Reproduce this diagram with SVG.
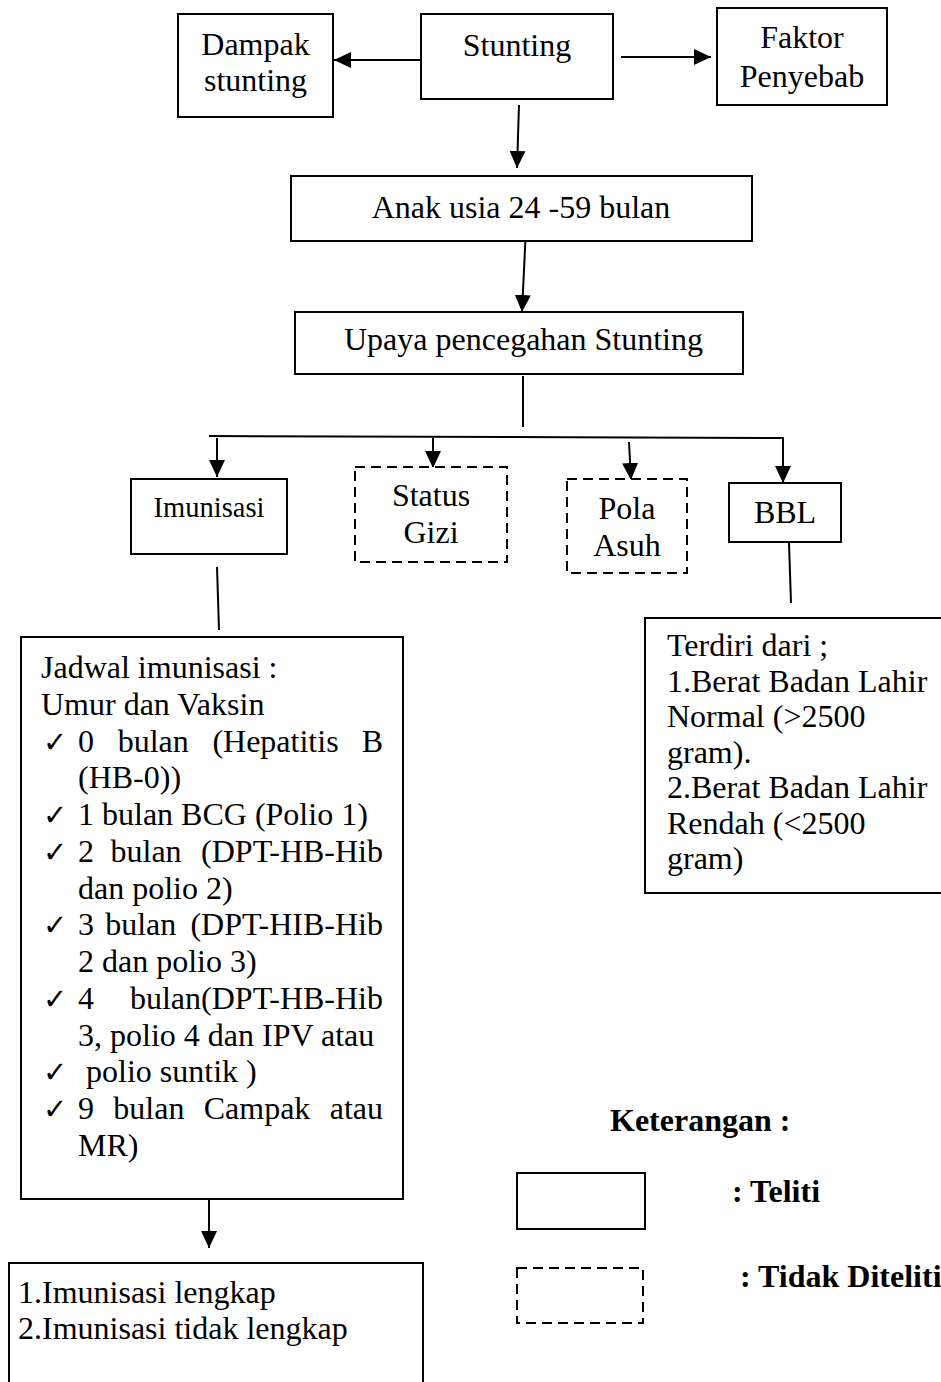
<svg xmlns="http://www.w3.org/2000/svg" width="941" height="1382" viewBox="0 0 941 1382">
<style>
.box{fill:#fff;stroke:#000;stroke-width:2}
.dash{fill:#fff;stroke:#000;stroke-width:2;stroke-dasharray:10 6}
.open{fill:none;stroke:#000;stroke-width:2}
.t{font-family:"Liberation Serif","Times New Roman",serif;font-size:32px;fill:#000}
.c{text-anchor:middle}
.e{text-anchor:end}
.b{font-weight:bold}
.ck{font-family:"DejaVu Sans",sans-serif;font-size:29px;fill:#000}
.ln{stroke:#000;stroke-width:2;fill:none}
</style>
<defs>
<marker id="ah" markerUnits="userSpaceOnUse" markerWidth="17" markerHeight="16" refX="17" refY="8" orient="auto">
<path d="M0,0 L17,8 L0,16 z" fill="#000"/>
</marker>
</defs>

<g id="connectors">
<line class="ln" x1="421" y1="60" x2="334" y2="60" marker-end="url(#ah)"/>
<line class="ln" x1="621" y1="57" x2="711" y2="57" marker-end="url(#ah)"/>
<line class="ln" x1="519" y1="105" x2="517" y2="168" marker-end="url(#ah)"/>
<line class="ln" x1="526" y1="228" x2="522" y2="312" marker-end="url(#ah)"/>
<line class="ln" x1="523" y1="376" x2="523" y2="427"/>
<line class="ln" x1="209" y1="436" x2="784" y2="438"/>
<line class="ln" x1="217" y1="438" x2="217" y2="477" marker-end="url(#ah)"/>
<line class="ln" x1="433" y1="438" x2="433" y2="468" marker-end="url(#ah)"/>
<line class="ln" x1="629" y1="442" x2="631" y2="480" marker-end="url(#ah)"/>
<line class="ln" x1="783" y1="438" x2="783" y2="483" marker-end="url(#ah)"/>
<line class="ln" x1="217" y1="567" x2="219" y2="630"/>
<line class="ln" x1="789" y1="543" x2="791" y2="603"/>
<line class="ln" x1="209" y1="1200" x2="209" y2="1248" marker-end="url(#ah)"/>
</g>

<g id="dampak">
<rect class="box" x="178" y="14" width="155" height="103"/>
<text class="t c" x="255.5" y="55">Dampak</text>
<text class="t c" x="255.5" y="91">stunting</text>
</g>

<g id="stunting">
<rect class="box" x="421" y="14" width="192" height="85"/>
<text class="t c" x="517" y="56">Stunting</text>
</g>

<g id="faktor">
<rect class="box" x="717" y="8" width="170" height="97"/>
<text class="t c" x="802" y="48">Faktor</text>
<text class="t c" x="802" y="87">Penyebab</text>
</g>

<g id="anak">
<rect class="box" x="291" y="176" width="461" height="65"/>
<text class="t c" x="521" y="218">Anak usia 24 -59 bulan</text>
</g>

<g id="upaya">
<rect class="box" x="295" y="312" width="448" height="62"/>
<text class="t c" x="523.5" y="350">Upaya pencegahan Stunting</text>
</g>

<g id="imunisasi">
<rect class="box" x="131" y="479" width="156" height="75"/>
<text class="t c" x="209" y="517" style="font-size:28.5px">Imunisasi</text>
</g>

<g id="status-gizi">
<rect class="dash" x="355" y="467" width="152" height="95"/>
<text class="t c" x="431" y="506">Status</text>
<text class="t c" x="431" y="543">Gizi</text>
</g>

<g id="pola-asuh">
<rect class="dash" x="567" y="479" width="120" height="94"/>
<text class="t c" x="627" y="519">Pola</text>
<text class="t c" x="627" y="556">Asuh</text>
</g>

<g id="bbl">
<rect class="box" x="729" y="483" width="112" height="59"/>
<text class="t c" x="785" y="523">BBL</text>
</g>

<g id="bbl-detail">
<path class="open" d="M942,618 H645 V893 H942"/>
<text class="t" x="667" y="656">Terdiri dari ;</text>
<text class="t" x="667" y="691.5">1.Berat Badan Lahir</text>
<text class="t" x="667" y="727">Normal (&gt;2500</text>
<text class="t" x="667" y="762.5">gram).</text>
<text class="t" x="667" y="798">2.Berat Badan Lahir</text>
<text class="t" x="667" y="833.5">Rendah (&lt;2500</text>
<text class="t" x="667" y="869">gram)</text>
</g>

<g id="jadwal">
<rect class="box" x="21" y="637" width="382" height="562"/>
<text class="t" x="41" y="678">Jadwal imunisasi :</text>
<text class="t" x="41" y="715">Umur dan Vaksin</text>
<text class="ck" x="43" y="752">✓</text>
<text class="t" y="752"><tspan x="78">0</tspan><tspan x="117.7">bulan</tspan><tspan x="212.4">(Hepatitis</tspan><tspan x="383" text-anchor="end">B</tspan></text>
<text class="t" x="78" y="788">(HB-0))</text>
<text class="ck" x="43" y="825">✓</text>
<text class="t" x="78" y="825">1 bulan BCG (Polio 1)</text>
<text class="ck" x="43" y="862">✓</text>
<text class="t" y="862"><tspan x="78">2</tspan><tspan x="110.5">bulan</tspan><tspan x="383" text-anchor="end">(DPT-HB-Hib</tspan></text>
<text class="t" x="78" y="899">dan polio 2)</text>
<text class="ck" x="43" y="935">✓</text>
<text class="t" y="935"><tspan x="78">3</tspan><tspan x="105.2">bulan</tspan><tspan x="383" text-anchor="end">(DPT-HIB-Hib</tspan></text>
<text class="t" x="78" y="972">2 dan polio 3)</text>
<text class="ck" x="43" y="1009">✓</text>
<text class="t" y="1009"><tspan x="78">4</tspan><tspan x="383" text-anchor="end">bulan(DPT-HB-Hib</tspan></text>
<text class="t" x="78" y="1046">3, polio 4 dan IPV atau</text>
<text class="ck" x="43" y="1082">✓</text>
<text class="t" x="86" y="1082">polio suntik )</text>
<text class="ck" x="43" y="1119">✓</text>
<text class="t" y="1119"><tspan x="78">9</tspan><tspan x="113.3">bulan</tspan><tspan x="203.7">Campak</tspan><tspan x="383" text-anchor="end">atau</tspan></text>
<text class="t" x="78" y="1156">MR)</text>
</g>

<g id="hasil">
<path class="open" d="M9,1383 V1263 H423 V1383"/>
<text class="t" x="18" y="1303">1.Imunisasi lengkap</text>
<text class="t" x="18" y="1339">2.Imunisasi tidak lengkap</text>
</g>

<g id="legend">
<text class="t b" x="610" y="1131">Keterangan :</text>
<rect class="box" x="517" y="1173" width="128" height="56"/>
<text class="t b" x="732" y="1202">: Teliti</text>
<rect class="dash" x="517" y="1268" width="126" height="55"/>
<text class="t b" x="740" y="1287">: Tidak Diteliti</text>
</g>
</svg>
